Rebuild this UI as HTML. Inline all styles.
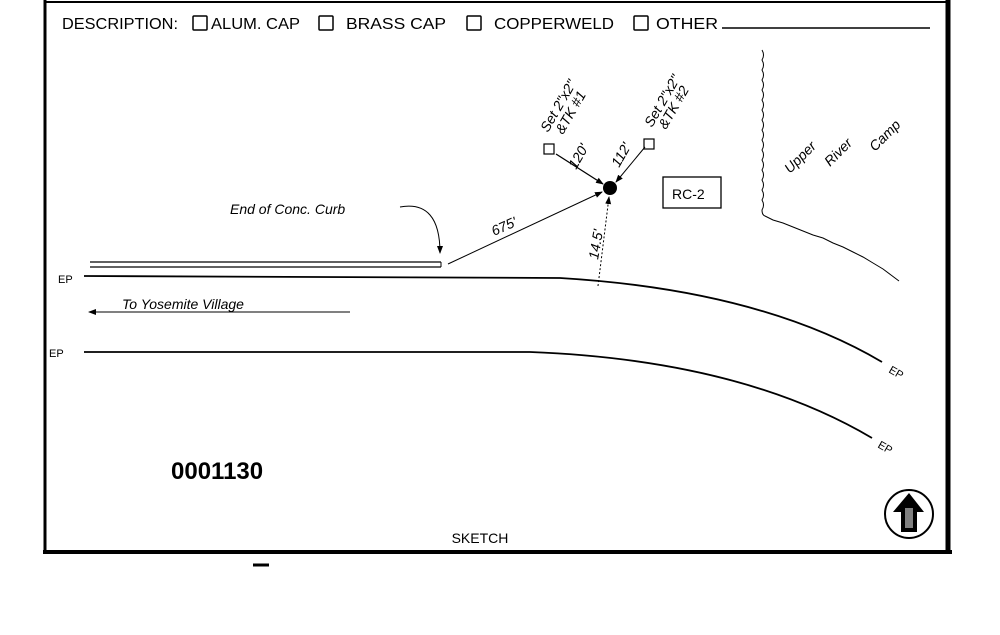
<!DOCTYPE html>
<html><head><meta charset="utf-8"><style>
html,body{margin:0;padding:0;background:#fff}
svg{display:block}
text{font-family:"Liberation Sans",sans-serif;fill:#000}
.h{font-size:16px}
.hw{font-family:"Liberation Sans",sans-serif;font-size:14px;font-style:italic}
</style></head><body>
<svg width="1000" height="635" viewBox="0 0 1000 635" xmlns="http://www.w3.org/2000/svg">
<defs><marker id="a" markerWidth="8" markerHeight="8" refX="7" refY="4" orient="auto" markerUnits="userSpaceOnUse"><path d="M0,1 L8,4 L0,7 z" fill="#000"/></marker></defs>
<!-- border -->
<line x1="44" y1="2" x2="950" y2="2" stroke="#000" stroke-width="2"/>
<line x1="45" y1="0" x2="45" y2="554" stroke="#000" stroke-width="3"/>
<line x1="948" y1="0" x2="948" y2="554" stroke="#000" stroke-width="5"/>
<line x1="43" y1="552" x2="952" y2="552" stroke="#000" stroke-width="4"/>
<line x1="253" y1="565" x2="269" y2="565" stroke="#000" stroke-width="3"/>
<!-- header -->
<text x="62" y="29" class="h" textLength="116" lengthAdjust="spacingAndGlyphs">DESCRIPTION:</text>
<rect x="193" y="16" width="14" height="14" fill="none" stroke="#000" stroke-width="1.5" rx="1"/>
<text x="211" y="29" class="h" textLength="89" lengthAdjust="spacingAndGlyphs">ALUM. CAP</text>
<rect x="319" y="16" width="14" height="14" fill="none" stroke="#000" stroke-width="1.5" rx="1"/>
<text x="346" y="29" class="h" textLength="100" lengthAdjust="spacingAndGlyphs">BRASS CAP</text>
<rect x="467" y="16" width="14" height="14" fill="none" stroke="#000" stroke-width="1.5" rx="1"/>
<text x="494" y="29" class="h" textLength="120" lengthAdjust="spacingAndGlyphs">COPPERWELD</text>
<rect x="634" y="16" width="14" height="14" fill="none" stroke="#000" stroke-width="1.5" rx="1"/>
<text x="656" y="29" class="h" textLength="62" lengthAdjust="spacingAndGlyphs">OTHER</text>
<line x1="722" y1="28" x2="930" y2="28" stroke="#000" stroke-width="1.5"/>
<!-- curb -->
<line x1="90" y1="262" x2="441" y2="262" stroke="#000" stroke-width="1.2"/>
<line x1="90" y1="267" x2="441" y2="267" stroke="#000" stroke-width="1.2"/>
<line x1="441" y1="262" x2="441" y2="267" stroke="#000" stroke-width="1"/>
<!-- EP lines -->
<text x="58" y="283" font-size="11">EP</text>
<path d="M84,276 L560,278 Q760,290 882,362" fill="none" stroke="#000" stroke-width="1.8"/>
<text x="49" y="357" font-size="11">EP</text>
<path d="M84,352 L530,352 Q740,360 872,438" fill="none" stroke="#000" stroke-width="1.8"/>
<text x="888" y="372" font-size="11" transform="rotate(30 888 372)">EP</text>
<text x="877" y="447" font-size="11" transform="rotate(30 877 447)">EP</text>
<!-- To Yosemite -->
<text x="122" y="309" class="hw" font-size="16">To Yosemite Village</text>
<line x1="350" y1="312" x2="89" y2="312" stroke="#000" stroke-width="1" marker-end="url(#a)"/>
<!-- End of curb -->
<text x="230" y="214" class="hw" font-size="13">End of Conc. Curb</text>
<path d="M400,207 Q440,200 440,253" fill="none" stroke="#000" stroke-width="1" marker-end="url(#a)"/>
<!-- 675 -->
<line x1="448" y1="264" x2="602" y2="192" stroke="#000" stroke-width="1" marker-end="url(#a)"/>
<text x="494" y="236" class="hw" font-size="15" transform="rotate(-24 494 236)">675'</text>
<!-- monument -->
<circle cx="610" cy="188" r="7" fill="#000"/>
<rect x="544" y="144" width="10" height="10" fill="none" stroke="#000" stroke-width="1.2"/>
<rect x="644" y="139" width="10" height="10" fill="none" stroke="#000" stroke-width="1.2"/>
<line x1="556" y1="154" x2="603" y2="184" stroke="#000" stroke-width="1.3" marker-end="url(#a)"/>
<line x1="645" y1="147" x2="616" y2="182" stroke="#000" stroke-width="1" marker-end="url(#a)"/>
<text x="576" y="170" class="hw" font-size="12" transform="rotate(-60 576 170)">120'</text>
<text x="619" y="168" class="hw" font-size="12" transform="rotate(-60 619 168)">112'</text>
<text x="548" y="133" class="hw" font-size="13" transform="rotate(-60 548 133)">Set 2"x2"</text>
<text x="563" y="135" class="hw" font-size="11" transform="rotate(-60 563 135)">&amp;TK #1</text>
<text x="652" y="128" class="hw" font-size="13" transform="rotate(-60 652 128)">Set 2"x2"</text>
<text x="666" y="130" class="hw" font-size="11" transform="rotate(-60 666 130)">&amp;TK #2</text>
<line x1="598" y1="286" x2="609" y2="197" stroke="#000" stroke-width="1" stroke-dasharray="2,2" marker-end="url(#a)"/>
<text x="598" y="260" class="hw" transform="rotate(-80 598 260)">14.5'</text>
<!-- RC-2 -->
<rect x="663" y="177" width="58" height="31" fill="none" stroke="#000" stroke-width="1.3"/>
<text x="672" y="199" font-size="14">RC-2</text>
<!-- boundary -->
<path d="M762,50 q3,5 0,10 q3,5 0,10 q3,5 0,10 q3,5 0,10 q3,5 0,10 q3,5 0,10 q3,5 0,10 q3,5 0,10 q3,5 0,10 q3,5 0,10 q3,5 0,10 q3,5 0,10 q3,5 0,10 q3,5 0,10 q3,5 0,10 q3,5 0,10 q0,5 3,6 l8,4 l10,3 l10,4 l10,4 l10,4 l10,3 l10,5 l10,4 l10,5 l10,5 l10,6 l10,6 l8,6 l8,6" fill="none" stroke="#000" stroke-width="1"/>
<text x="790" y="174" class="hw" font-size="15" transform="rotate(-45 790 174)">Upper</text>
<text x="830" y="167" class="hw" font-size="15" transform="rotate(-45 830 167)">River</text>
<text x="875" y="152" class="hw" font-size="15" transform="rotate(-45 875 152)">Camp</text>
<!-- number -->
<text x="171" y="479" font-size="24" font-weight="bold">0001130</text>
<text x="480" y="543" font-size="14" text-anchor="middle">SKETCH</text>
<!-- north -->
<circle cx="909" cy="514" r="24" fill="none" stroke="#000" stroke-width="2"/>
<path d="M909,493 L893,512 L901,512 L901,532 L917,532 L917,512 L924,512 Z" fill="#000"/>
<path d="M905,508 L905,528 L913,528 L913,508 Z" fill="#fff" opacity="0.5"/>
</svg>
</body></html>
